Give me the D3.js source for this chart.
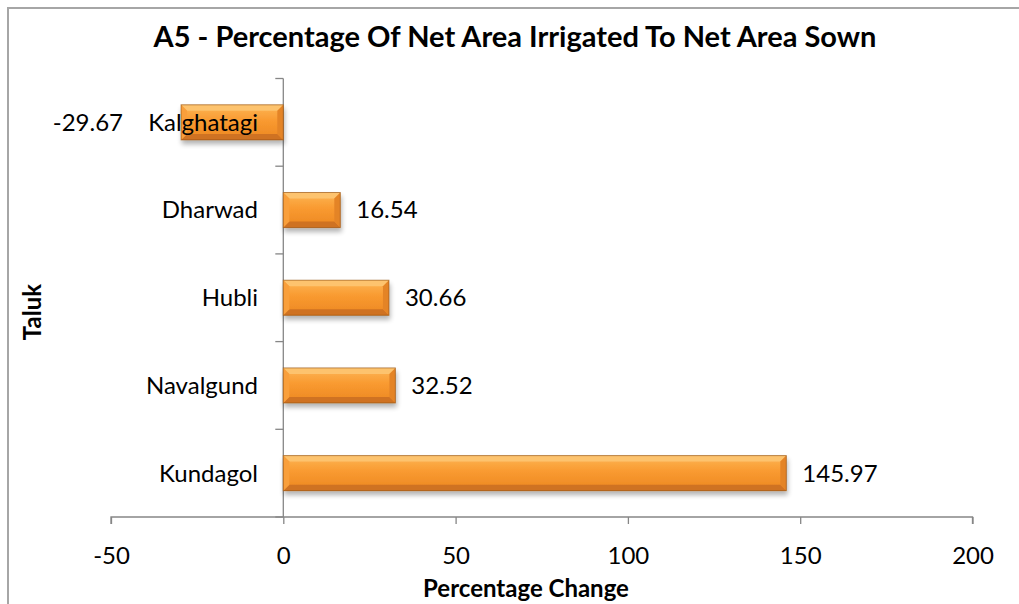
<!DOCTYPE html>
<html><head><meta charset="utf-8">
<script src="https://cdn.jsdelivr.net/npm/d3@7"></script>
<style>body{margin:0;background:#fff}svg{display:block}text{font-family:Lato,"Open Sans",sans-serif}</style>
</head><body>
<script>
const categories = ["Kalghatagi", "Dharwad", "Hubli", "Navalgund", "Kundagol"];
const values = [-29.67, 16.54, 30.66, 32.52, 145.97];
const xTicks = [-50, 0, 50, 100, 150, 200];
const title = "A5 - Percentage Of Net Area Irrigated To Net Area Sown";
const xTitle = "Percentage Change";
const yTitle = "Taluk";

const W = 1019, H = 604;
const svg = d3.select("body").append("svg").attr("width", W).attr("height", H);
const defs = svg.append("defs");
const f = defs.append("filter").attr("id","sh").attr("x","-10%").attr("y","-30%").attr("width","130%").attr("height","180%");
f.append("feGaussianBlur").attr("in","SourceAlpha").attr("stdDeviation",2.5);
f.append("feOffset").attr("dx",1).attr("dy",4).attr("result","ob");
f.append("feComponentTransfer").append("feFuncA").attr("type","linear").attr("slope",0.3);
const fm = f.append("feMerge"); fm.append("feMergeNode"); fm.append("feMergeNode").attr("in","SourceGraphic");
const g1 = defs.append("linearGradient").attr("id","face").attr("x1",0).attr("y1",0).attr("x2",0).attr("y2",1);
g1.append("stop").attr("offset","0").attr("stop-color","#fdb656");
g1.append("stop").attr("offset","0.45").attr("stop-color","#f99a30");
g1.append("stop").attr("offset","1").attr("stop-color","#ec8722");

// border
svg.append("rect").attr("x",8).attr("y",8).attr("width",W+20).attr("height",H+20)
  .attr("fill","none").attr("stroke","#a6a6a6").attr("stroke-width",2);

const x = d3.scaleLinear().domain([-50, 200]).range([111, 972.5]);
const y = d3.scaleBand().domain(categories).range([78.5, 517]).paddingInner(0.6).paddingOuter(0.3);
const band = d3.scaleBand().domain(categories).range([78.5, 517]);
const fmt = d => String(d);

// x axis
const xa = svg.append("g").attr("transform","translate(0,517)")
  .call(d3.axisBottom(x).tickValues(xTicks).tickSize(7).tickPadding(23).tickFormat(fmt));
xa.select(".domain").attr("stroke","#868686").attr("stroke-width",1.3).attr("d","M111,7V0H972.5V7");
xa.selectAll(".tick line").attr("stroke","#868686").attr("stroke-width",1.3);
xa.selectAll(".tick text").attr("font-size",24).attr("fill","#000").attr("font-family","Lato");

// y axis at zero
const ya = svg.append("g").attr("transform",`translate(${x(0)},0)`);
ya.append("line").attr("y1",78.5).attr("y2",517).attr("stroke","#868686").attr("stroke-width",1.3);
const bTicks = categories.map(c => band(c)).concat([517]);
ya.selectAll("line.t").data(bTicks).enter().append("line").attr("class","t")
  .attr("x1",-8).attr("x2",0).attr("y1",d=>d).attr("y2",d=>d).attr("stroke","#868686").attr("stroke-width",1.3);

// bars with bevel
const bars = svg.append("g");
categories.forEach((c,i) => {
  const v = values[i];
  const x0 = Math.min(x(0), x(v)), x1 = Math.max(x(0), x(v));
  const y0 = y(c), y1 = y(c) + y.bandwidth();
  const b = Math.min(6, (x1-x0)/2, (y1-y0)/2);
  const g = bars.append("g").attr("filter","url(#sh)");
  g.append("rect").attr("x",x0).attr("y",y0).attr("width",x1-x0).attr("height",y1-y0).attr("fill","url(#face)");
  const poly = (pts, fill) => g.append("polygon").attr("points", pts.map(p=>p.join(",")).join(" ")).attr("fill",fill);
  poly([[x0,y0],[x1,y0],[x1-b,y0+b],[x0+b,y0+b]], "#fdc36e");
  poly([[x0,y1],[x1,y1],[x1-b,y1-b],[x0+b,y1-b]], "#cf7222");
  poly([[x0,y0],[x0+b,y0+b],[x0+b,y1-b],[x0,y1]], "#f99f3b");
  poly([[x1,y0],[x1-b,y0+b],[x1-b,y1-b],[x1,y1]], "#e48428");
  g.append("rect").attr("x",x0).attr("y",y0).attr("width",x1-x0).attr("height",y1-y0)
    .attr("fill","none").attr("stroke","#8f4f12").attr("stroke-width",1).attr("stroke-opacity",0.6);
});

// category labels
svg.append("g").selectAll("text").data(categories).enter().append("text")
  .attr("x", 258).attr("y", d => y(d) + y.bandwidth()/2).attr("dy","0.35em")
  .attr("text-anchor","end").attr("font-size",24).attr("fill","#000").text(d=>d);

// value labels
svg.append("g").selectAll("text").data(values).enter().append("text")
  .attr("x", d => d >= 0 ? x(d) + 16 : x(d) - 58)
  .attr("text-anchor", d => d >= 0 ? "start" : "end")
  .attr("y", (d,i) => y(categories[i]) + y.bandwidth()/2).attr("dy","0.35em")
  .attr("font-size",24).attr("fill","#000").text(d => d.toFixed(2));

svg.append("text").attr("x",515).attr("y",47).attr("text-anchor","middle")
  .attr("font-size",29).attr("font-weight","bold").text(title);
svg.append("text").attr("x",526).attr("y",597).attr("text-anchor","middle")
  .attr("font-size",24).attr("font-weight","bold").text(xTitle);
svg.append("text").attr("transform","translate(41,312) rotate(-90)").attr("text-anchor","middle")
  .attr("font-size",24).attr("font-weight","bold").text(yTitle);
</script>
</body></html>
